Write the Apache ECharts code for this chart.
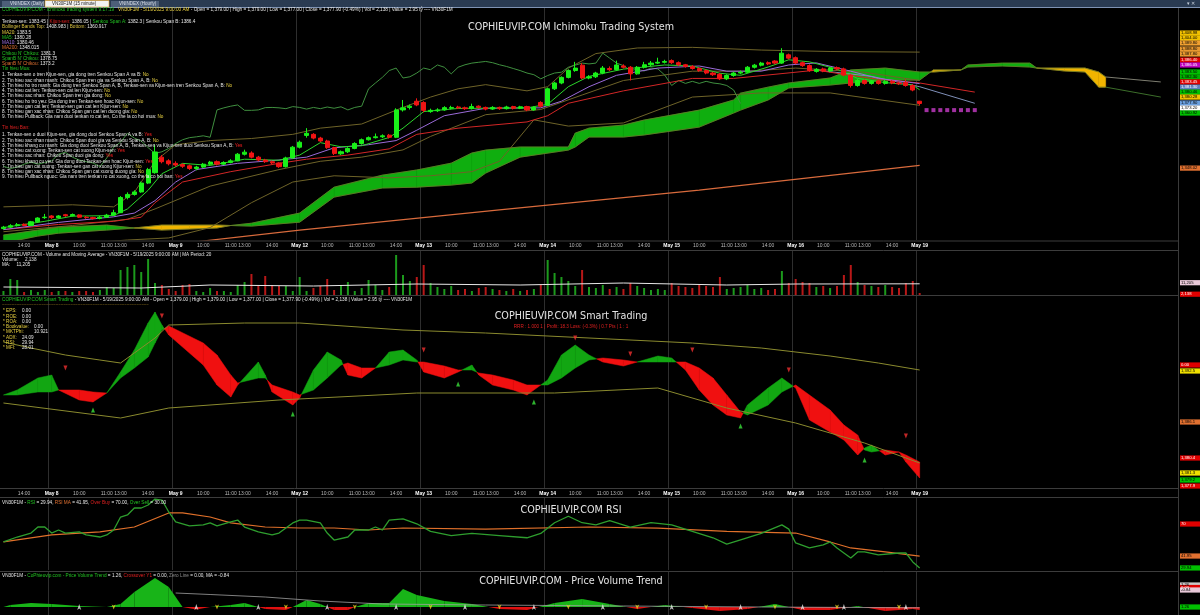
<!DOCTYPE html>
<html><head><meta charset="utf-8">
<script src="https://cdn.jsdelivr.net/npm/echarts@6/dist/echarts.min.js"></script>
<style>html,body{margin:0;padding:0;background:#000;overflow:hidden}#c{width:1200px;height:615px}</style>
</head><body><div id="c"></div>
<script>
// ---------------- DATA ----------------
const days = ["May 7","May 8","May 9","May 12","May 13","May 14","May 15","May 16","May 19"];
const sessionTimes = ["09:00","09:15","09:30","09:45","10:00","10:15","10:30","10:45","11:00","11:15","13:00","13:15","13:30","13:45","14:00","14:15","14:30","14:45"];
const tickTimes = ["10:00","11:00","13:00","14:00"];
const futureSlots = 37;

const opens  = [1317.5,1318.2,1318.9,1319.6,1319.0,1320.8,1322.8,1323.6,1322.8,1324.2,1323.7,1324.1,1323.0,1322.8,1322.4,1323.0,1324.0,1325.2,1332.5,1334.0,1335.2,1339.5,1344.5,1352.0,1350.2,1349.0,1348.4,1347.8,1346.5,1347.2,1348.6,1349.8,1348.6,1349.4,1350.2,1353.4,1354.0,1352.0,1350.6,1349.8,1349.2,1347.4,1351.6,1356.8,1362.5,1363.0,1361.2,1359.8,1356.6,1353.6,1354.6,1356.2,1358.6,1360.4,1361.4,1361.8,1362.6,1361.6,1374.8,1376.0,1379.0,1378.4,1374.0,1374.4,1374.8,1375.6,1376.2,1375.8,1375.4,1376.6,1376.0,1375.2,1376.0,1375.4,1376.4,1375.6,1376.4,1374.8,1378.4,1377.0,1385.0,1387.8,1390.5,1393.8,1396.4,1390.2,1390.8,1392.6,1394.8,1394.2,1396.0,1395.4,1392.2,1395.4,1396.6,1397.4,1397.8,1398.6,1397.6,1396.6,1395.8,1394.8,1393.8,1392.6,1392.0,1389.8,1391.4,1392.6,1393.0,1395.4,1396.4,1397.6,1398.4,1397.4,1401.4,1400.0,1397.6,1396.2,1393.4,1394.6,1393.6,1395.2,1394.6,1391.6,1386.6,1389.0,1387.6,1388.8,1387.6,1388.6,1387.8,1388.0,1386.6,1379.0];
const closes = [1318.2,1318.9,1319.4,1319.0,1320.8,1322.6,1323.0,1322.8,1323.6,1323.7,1324.3,1323.0,1322.8,1322.4,1323.0,1324.0,1325.2,1332.5,1334.0,1335.2,1339.5,1346.0,1354.5,1349.8,1348.8,1348.2,1347.6,1346.5,1347.2,1348.6,1349.6,1348.6,1349.4,1350.2,1353.4,1354.4,1352.0,1350.6,1349.8,1349.2,1347.4,1351.6,1356.8,1359.2,1363.5,1361.2,1359.8,1356.6,1353.8,1354.6,1356.2,1358.6,1360.4,1361.4,1361.8,1362.3,1361.6,1374.8,1375.8,1376.6,1377.2,1374.6,1374.6,1374.8,1375.9,1376.0,1375.8,1375.4,1376.4,1376.0,1375.2,1376.0,1375.4,1376.2,1375.6,1376.3,1374.8,1376.0,1376.6,1385.0,1387.8,1390.5,1393.8,1395.0,1390.2,1390.8,1392.6,1395.0,1394.2,1396.5,1395.4,1392.2,1395.4,1396.6,1397.4,1397.8,1398.2,1397.6,1396.6,1395.8,1394.8,1393.8,1392.6,1391.8,1389.8,1391.4,1392.6,1393.0,1395.4,1396.4,1397.4,1397.0,1397.4,1402.2,1399.8,1397.4,1396.2,1393.8,1394.4,1393.6,1395.0,1394.6,1391.6,1386.6,1389.0,1387.6,1388.6,1387.6,1388.6,1387.8,1387.4,1386.6,1384.4,1377.9];
const highs  = [1318.8,1319.6,1320.2,1320.0,1321.2,1323.0,1324.6,1324.0,1324.0,1324.6,1324.8,1324.4,1323.6,1323.2,1323.6,1324.6,1326.6,1333.2,1335.0,1336.0,1340.2,1346.8,1358.0,1353.0,1351.0,1350.0,1349.0,1348.4,1347.8,1349.2,1350.2,1350.4,1350.0,1351.0,1354.0,1355.6,1354.8,1352.6,1351.2,1350.4,1349.6,1352.2,1357.4,1360.0,1366.0,1363.6,1361.8,1360.4,1357.0,1355.2,1356.8,1359.2,1361.0,1362.0,1363.4,1363.0,1363.2,1375.6,1379.6,1377.4,1380.4,1379.0,1375.4,1375.6,1376.6,1376.8,1376.8,1376.4,1377.8,1377.0,1376.4,1376.6,1376.4,1376.8,1376.8,1376.8,1376.8,1376.6,1379.0,1385.6,1388.4,1391.0,1394.4,1398.0,1397.4,1391.6,1393.2,1396.0,1395.8,1398.6,1396.8,1396.0,1396.0,1398.0,1398.4,1400.0,1399.0,1399.2,1398.2,1397.0,1396.4,1395.4,1394.4,1393.2,1392.6,1392.0,1393.2,1393.8,1396.0,1397.0,1398.0,1398.2,1398.8,1404.6,1402.0,1400.6,1398.2,1396.8,1395.0,1395.2,1395.6,1395.8,1395.2,1392.0,1389.6,1389.6,1389.2,1389.4,1389.2,1389.2,1388.4,1389.6,1387.2,1379.0];
const lows   = [1317.0,1317.8,1318.5,1318.6,1318.8,1320.4,1322.2,1322.2,1322.4,1323.2,1323.3,1322.6,1322.2,1321.8,1322.0,1322.6,1323.6,1325.0,1331.6,1333.4,1334.8,1339.0,1344.0,1349.0,1348.0,1347.4,1346.8,1345.8,1345.6,1346.8,1348.0,1348.0,1348.2,1349.0,1350.0,1352.8,1351.4,1350.0,1349.2,1348.6,1346.8,1347.0,1351.2,1356.2,1361.4,1360.6,1359.2,1356.0,1353.0,1353.0,1354.0,1355.8,1358.0,1360.0,1361.0,1361.2,1361.0,1361.2,1374.0,1375.0,1376.6,1373.6,1373.4,1373.8,1374.4,1375.0,1375.2,1374.8,1375.0,1375.4,1374.6,1374.8,1374.8,1375.0,1375.0,1375.2,1374.2,1374.4,1376.0,1376.6,1384.4,1387.2,1390.0,1393.2,1389.6,1389.6,1390.2,1392.0,1393.6,1393.8,1394.8,1389.0,1391.8,1394.8,1396.0,1397.0,1397.2,1397.0,1396.0,1395.2,1394.2,1393.2,1392.0,1391.2,1389.2,1389.2,1390.8,1392.0,1392.6,1394.8,1395.8,1396.4,1396.8,1397.0,1399.2,1396.8,1395.6,1393.2,1392.8,1393.0,1393.0,1394.0,1391.0,1385.6,1386.0,1387.0,1387.0,1387.0,1387.0,1387.2,1386.8,1386.0,1383.8,1377.0];

// Ichimoku cloud samples: [barIndex, spanA, spanB]
const cloudIdx = [0,5,8,15,19,23,27,31,33,36,43,48,55,60,65,68,70,75,82,83,85,90,93,101,106,107,111,114,120,123,128,133,135,139,140,145,149,150,154,157,159,160];
const spanA    = [1314.4,1316.8,1318.2,1319.2,1317.8,1316.8,1317.3,1317.8,1319.0,1320.1,1325.0,1337.5,1343.3,1345.8,1349.1,1354.0,1355.4,1356.9,1356.9,1363.6,1366.0,1367.5,1369.9,1374.7,1379.6,1382.9,1385.8,1387.8,1390.2,1394.1,1395.0,1393.1,1393.1,1394.1,1396.5,1397.4,1397.4,1395.0,1393.6,1393.1,1385.8,1385.8];
const spanB    = [1310.5,1313.9,1315.3,1316.8,1317.8,1319.2,1319.2,1319.2,1319.0,1318.7,1320.6,1332.7,1337.1,1337.5,1338.5,1339.5,1344.3,1352.0,1355.4,1356.9,1361.7,1361.7,1362.7,1366.5,1373.3,1374.7,1379.6,1385.4,1386.8,1387.8,1389.2,1389.2,1394.1,1394.1,1395.5,1396.0,1395.5,1395.0,1395.0,1395.0,1393.1,1390.7];
const spanTailA = [[160,1385.8],[168,1381.0]];
const spanTailB = [[160,1390.7],[168,1388.3]];

const ma5 = [[0,1318],[6,1321],[10,1323.5],[16,1323.8],[18,1327],[21,1336],[23,1344],[26,1349],[30,1348],[35,1351],[40,1350.5],[43,1353],[46,1359],[49,1357],[52,1357.5],[56,1361.5],[58,1366],[61,1374],[66,1375.5],[76,1375.8],[79,1377.5],[82,1386],[85,1391],[90,1394.5],[96,1396.5],[100,1396],[104,1392.5],[107,1391.5],[111,1395.5],[114,1399],[117,1398],[121,1394.5],[124,1390],[128,1388],[132,1386.8],[133,1384.5]];
const ma10 = [[0,1317],[8,1320.5],[16,1323.2],[19,1325],[22,1331],[25,1340],[28,1346],[34,1349],[40,1350.6],[44,1352],[48,1356.5],[53,1358],[57,1360],[60,1365],[64,1372],[70,1375.6],[78,1375.8],[81,1379],[85,1386],[89,1391.5],[95,1395],[101,1396],[105,1393.5],[110,1393.5],[114,1396.5],[118,1397.5],[123,1393.5],[127,1390],[133,1387.5]];
const tenkanLine = [[0,1317],[8,1319.5],[16,1321],[20,1323],[22,1330],[26,1340],[33,1345],[40,1349],[44,1351],[50,1353],[56,1356],[60,1363],[66,1366],[76,1369],[79,1372],[82,1378],[90,1384],[100,1390],[106,1390],[112,1392],[118,1394],[126,1390],[133,1387.8],[141,1383.4]];
const kijunLine = [[118,1394],[126,1391],[133,1386],[141,1378]];
const bbUpper = [[0,1328],[10,1329],[16,1328],[19,1335],[22,1350],[25,1358],[30,1360],[36,1361],[42,1363],[46,1366],[52,1368],[58,1376],[62,1381],[66,1385],[70,1387],[76,1384],[79,1386],[82,1395],[86,1402],[92,1404.7],[100,1405],[110,1403.7],[120,1403],[133,1402.7]];
const bbMid = [[0,1316],[10,1319],[18,1322],[22,1327],[30,1338],[40,1346],[46,1350],[52,1352],[58,1355.5],[62,1362],[70,1372.5],[78,1375],[84,1382],[90,1389],[100,1393.5],[108,1393.5],[115,1395],[125,1393],[133,1389]];
const bbLower = [[0,1306],[10,1310],[18,1312],[24,1313],[30,1318],[36,1330],[42,1340],[48,1343],[56,1342],[62,1343],[68,1345],[72,1350],[77,1370],[82,1367],[90,1368.5],[100,1381],[110,1383],[120,1383],[133,1377]];
const ma200 = [[25,1310],[43,1316.8],[72,1326.5],[101,1336.1],[133,1348]];
const chikouShift = 26;
const projDots = [[134,1374.7],[135,1374.7],[136,1374.7],[137,1374.7],[138,1374.7],[139,1374.7],[140,1374.7],[141,1374.7]];

// Volume (thousand contracts) and its moving average
const volumes = [4,16,15,3,5,3,5,3,4,4,3,4,4,3,5,8,7,25,28,30,23,36,12,10,6,4,10,11,4,3,7,4,4,3,10,13,21,9,19,10,9,9,4,18,4,7,9,16,5,10,13,4,7,15,10,5,8,40,20,14,18,30,12,8,6,9,5,6,4,7,8,6,5,4,6,4,5,6,10,35,22,18,14,9,25,8,7,10,6,8,6,12,9,7,5,6,5,12,9,8,7,10,9,8,18,6,7,8,10,6,7,5,6,24,12,16,13,12,8,9,7,9,20,30,13,10,9,8,10,8,7,12,14,2];
const volMA = [[0,8],[20,7],[30,10],[45,9],[60,11],[75,10],[90,12],[105,10],[115,11],[133,11.2]];

// Smart Trading ribbon: [barIndex, fast, slow] (panel units)
const stIdx  = [0,2,5,7,8,11,13,15,17,19,21,22,23,24,29,31,33,34,37,38,39,42,43,45,47,49,50,52,54,56,58,60,61,64,66,68,69,71,74,76,79,81,83,85,87,90,92,95,97,99,101,103,105,107,108,111,113,115,117,120,122,124,125,126,128,130,131,133];
const stFast = [93,98,110,113,98,88,86,95,116,138,165,176,163,153,123,103,91,103,126,113,96,83,90,118,136,128,113,110,120,136,138,128,116,110,116,123,113,103,98,93,108,133,143,133,126,122,126,132,130,118,98,83,73,70,83,100,110,100,68,56,48,33,40,43,33,36,26,10];
const stSlow = [93,93,96,96,98,98,96,95,110,120,131,145,158,162,145,133,113,105,110,110,103,96,93,98,110,123,125,120,120,123,128,126,126,122,118,118,115,113,108,103,103,110,120,128,130,128,126,126,126,126,120,110,93,76,73,83,96,103,93,78,63,53,38,36,38,36,33,26];
const stUpper = [[0,146],[4,140],[9,133],[14,128],[17,125],[22,150],[24,163],[35,165],[43,165],[58,158],[70,155],[85,150],[100,145],[110,140],[120,132],[127,125],[133,118]];
const stLower = [[0,85],[17,70],[24,80],[40,88],[60,95],[80,95],[95,100],[105,80],[115,65],[125,45],[133,25]];
const stBuyArrows = [[13,78],[42,74],[66,104],[77,86],[107,62],[125,28]];
const stSellArrows = [[9,120],[23,172],[61,138],[83,150],[91,134],[100,138],[114,118],[131,52]];

// RSI
const rsi = [[0,54.1],[2,58.7],[4,62.4],[5,68],[6,68],[7,62.4],[8,65.2],[9,62.4],[11,63.4],[12,60.6],[14,58.7],[15,60.6],[16,65.2],[17,77.3],[18,79.2],[19,85.7],[20,85.7],[21,88.5],[22,94],[23,93.1],[24,82],[25,72.7],[27,69],[29,69.9],[30,71.8],[31,69],[33,72.7],[34,74.5],[35,68],[37,63.4],[39,60.6],[40,62.4],[42,71.8],[43,74.5],[44,74.5],[46,71.8],[47,62.4],[48,55.9],[50,58.7],[51,65.2],[53,65.2],[54,68],[55,65.2],[56,74.5],[58,75.5],[60,71],[62,64],[65,60],[68,62],[72,60],[76,58],[78,62],[80,72],[82,78],[84,72],[86,70],[88,74],[91,68],[94,72],[97,70],[100,64],[103,58],[105,52],[107,56],[110,62],[113,70],[114,66],[115,53.2],[117,48.5],[119,51.3],[120,54.1],[121,48.5],[123,39.2],[124,44.8],[125,44.8],[127,42],[130,43.8],[131,43.8],[132,35.5],[133,29.9]];
const rsiMA = [[0,54.1],[7,60.6],[14,63.4],[19,68],[24,81.1],[26,81.1],[30,77.3],[33,71.8],[38,68],[43,67.1],[48,67.1],[53,65.2],[58,67.1],[70,66],[85,68],[95,67],[105,64],[115,62.4],[120,54.1],[123,48.5],[128,44.8],[133,41]];

// Price Volume Trend
const pvtIdx = [0,1,4,7,11,15,17,19,22,24,26,28,30,33,35,37,38,41,42,44,46,47,48,50,51,53,56,58,60,64,68,72,76,80,84,88,92,96,100,104,108,112,116,120,124,128,132,133];
const pvtVal = [0,2,4,3,1,0,3,15,29,20,0,-2.5,0,2,4,0,-2,-3,0,7,3,0,-3,-3,0,4,4,18,12,6,3,-2,-3,4,8,3,-2,2,-1,-4,-2,3,-3,-3,1,-4,-2,-3];
const pvtMA = [[25,14],[30,12.5],[38,10],[46,6],[55,3],[70,2],[90,1],[110,0],[133,-0.8]];
const pvtUpMarks = [[11,3],[28,3],[37,3],[47,3],[57,3],[67,3],[77,3],[87,3],[97,3],[107,3],[116,3],[122,3],[131,3]];
const pvtDownMarks = [[16,-2.5],[31,-2.5],[41,-2.5],[51,-2.5],[62,-2.5],[72,-2.5],[82,-2.5],[92,-2.5],[102,-2.5],[112,-2.5],[121,-2.5],[130,-2.5]];

// ---------------- BUILD ----------------
const categories = [];
const dayStart = new Set();
const labelIdx = new Set();
days.forEach((d, k) => {
  let times = sessionTimes;
  if (k === 0) times = sessionTimes.slice(11);
  if (k === days.length - 1) times = sessionTimes.slice(0, 1);
  times.forEach(t => {
    const i = categories.length;
    if (t === "09:00") { dayStart.add(i); labelIdx.add(i); }
    if (tickTimes.includes(t)) labelIdx.add(i);
    categories.push(d + " " + t);
  });
});
for (let f = 0; f < futureSlots; f++) categories.push("+" + (f + 1));

const UP = '#19f019', DOWN = '#f01414';
const candleData = opens.map((o, i) => [o, closes[i], lows[i], highs[i]]);
const chikou = closes.slice(chikouShift).map((c, i) => [i, c]);
const cloudSegs = [];
for (let k = 0; k < cloudIdx.length - 1; k++) cloudSegs.push([cloudIdx[k], spanA[k], spanB[k], cloudIdx[k+1], spanA[k+1], spanB[k+1]]);
const stSegs = [];
for (let k = 0; k < stIdx.length - 1; k++) stSegs.push([stIdx[k], stFast[k], stSlow[k], stIdx[k+1], stFast[k+1], stSlow[k+1]]);
const pvtSegs = [];
for (let k = 0; k < pvtIdx.length - 1; k++) pvtSegs.push([pvtIdx[k], pvtVal[k], pvtIdx[k+1], pvtVal[k+1]]);
const volData = volumes.map((v, i) => ({value: v, itemStyle: {color: closes[i] >= opens[i] ? '#1c9a1c' : '#b81818'}}));

function bandRender(posColor, negColor, edge) {
  return function (params, api) {
    const i0 = api.value(0), a0 = api.value(1), b0 = api.value(2), i1 = api.value(3), a1 = api.value(4), b1 = api.value(5);
    const A0 = api.coord([i0, a0]), B0 = api.coord([i0, b0]), A1 = api.coord([i1, a1]), B1 = api.coord([i1, b1]);
    const d0 = a0 - b0, d1 = a1 - b1;
    const ch = [];
    const poly = (pts, d) => { const c = d >= 0 ? posColor : negColor; ch.push({type: 'polygon', shape: {points: pts}, style: {fill: c, stroke: c, lineWidth: 0.5}}); };
    if (d0 * d1 < 0) {
      const t = d0 / (d0 - d1);
      const M = [A0[0] + (A1[0] - A0[0]) * t, A0[1] + (A1[1] - A0[1]) * t];
      poly([A0, M, B0], d0); poly([M, A1, B1], d1);
    } else poly([A0, A1, B1, B0], d0 + d1);
    if (edge) {
      ch.push({type: 'line', shape: {x1: A0[0], y1: A0[1], x2: A1[0], y2: A1[1]}, style: {stroke: edge, lineWidth: 0.8}});
      ch.push({type: 'line', shape: {x1: B0[0], y1: B0[1], x2: B1[0], y2: B1[1]}, style: {stroke: edge, lineWidth: 0.8}});
    }
    return {type: 'group', children: ch};
  };
}
function pvtRender(params, api) {
  const i0 = api.value(0), v0 = api.value(1), i1 = api.value(2), v1 = api.value(3);
  const P0 = api.coord([i0, v0]), P1 = api.coord([i1, v1]), Z0 = api.coord([i0, 0]), Z1 = api.coord([i1, 0]);
  const col = v => v >= 0 ? '#18b418' : '#e01010';
  const ch = [];
  if (v0 * v1 < 0) {
    const t = v0 / (v0 - v1);
    const M = [Z0[0] + (Z1[0] - Z0[0]) * t, Z0[1]];
    ch.push({type: 'polygon', shape: {points: [Z0, P0, M]}, style: {fill: col(v0)}});
    ch.push({type: 'polygon', shape: {points: [M, P1, Z1]}, style: {fill: col(v1)}});
  } else ch.push({type: 'polygon', shape: {points: [Z0, P0, P1, Z1]}, style: {fill: col(v0 + v1)}});
  return {type: 'group', children: ch};
}

const grids = [
  {left: 0, right: 22, top: 8, height: 232},
  {left: 0, right: 22, top: 251, height: 44},
  {left: 0, right: 22, top: 296, height: 192},
  {left: 0, right: 22, top: 498, height: 72},
  {left: 0, right: 22, top: 572, height: 43}
];
const xAxes = grids.map((g, k) => ({
  type: 'category', gridIndex: k, data: categories, boundaryGap: true,
  axisLine: {show: false}, axisTick: {show: false},
  splitLine: {show: true, interval: (i) => dayStart.has(i), lineStyle: {color: '#2e2e2e', width: 1}},
  axisLabel: (k === 0 || k === 2) ? {
    show: true, interval: (i) => labelIdx.has(i), margin: 3, fontSize: 5, color: '#b8b8b8', fontFamily: 'Liberation Sans',
    formatter: (v) => { const p = v.split(' '); const t = p.pop(); return t === '09:00' ? '{d|' + p.join(' ') + '}' : '{t|' + t + '}'; },
    rich: {d: {fontWeight: 'bold', color: '#ffffff', fontSize: 5, fontFamily: 'Liberation Sans'}, t: {color: '#b8b8b8', fontSize: 5, fontFamily: 'Liberation Sans'}}
  } : {show: false}
}));
const yAxes = [
  {gridIndex: 0, min: 1312, max: 1424, show: false},
  {gridIndex: 1, min: 0, max: 44, show: false},
  {gridIndex: 2, min: 0, max: 192, show: false},
  {gridIndex: 3, min: 28, max: 95, show: false},
  {gridIndex: 4, min: -8, max: 35, show: false}
];
const L = (name, data, color, x, w, extra) => Object.assign({name, type: 'line', data, xAxisIndex: x, yAxisIndex: x, symbol: 'none', connectNulls: true, silent: true, lineStyle: {color, width: w || 1}, z: 3}, extra || {});

const series = [
  {type: 'custom', name: 'cloud', xAxisIndex: 0, yAxisIndex: 0, data: cloudSegs, renderItem: bandRender('#0fae0f', '#f0b400', '#6b7a2a'), encode: {x: [0, 3], y: [1, 2, 4, 5]}, clip: true, silent: true, z: 1},
  L('spanTailA', spanTailA, '#3c6e2a', 0, 1),
  L('spanTailB', spanTailB, '#7d7d70', 0, 1),
  L('ma200', ma200, '#d86a3c', 0, 1.2),
  L('bbUpper', bbUpper, '#6e6328', 0, 1),
  L('bbMid', bbMid, '#6e6328', 0, 1),
  L('bbLower', bbLower, '#6e6328', 0, 1),
  L('chikou', chikou, '#3f8f3f', 0, 1),
  L('kijun', kijunLine, '#7f8fb8', 0, 1),
  L('tenkan', tenkanLine, '#d22626', 0, 1),
  L('ma10', ma10, '#9a6ad8', 0, 1),
  L('ma5', ma5, '#2bd42b', 0, 1),
  {type: 'candlestick', name: 'price', xAxisIndex: 0, yAxisIndex: 0, data: candleData, barWidth: '66%', silent: true, z: 5,
    itemStyle: {color: UP, color0: DOWN, borderColor: UP, borderColor0: DOWN, borderWidth: 1}},
  {type: 'scatter', name: 'proj', xAxisIndex: 0, yAxisIndex: 0, data: projDots, symbol: 'rect', symbolSize: 4, itemStyle: {color: '#c83cc8'}, silent: true, z: 5},
  {type: 'bar', name: 'volume', xAxisIndex: 1, yAxisIndex: 1, data: volData, barWidth: 2, silent: true},
  L('volMA', volMA, '#e8e8e8', 1, 1),
  {type: 'custom', name: 'smart', xAxisIndex: 2, yAxisIndex: 2, data: stSegs, renderItem: bandRender('#12a612', '#f01010', null), encode: {x: [0, 3], y: [1, 2, 4, 5]}, clip: true, silent: true, z: 2},
  L('stUpper', stUpper, '#8a8a2e', 2, 1),
  L('stLower', stLower, '#8a8a2e', 2, 1),
  {type: 'scatter', name: 'buy', xAxisIndex: 2, yAxisIndex: 2, data: stBuyArrows, symbol: 'triangle', symbolSize: [4, 5], itemStyle: {color: '#3ae03a'}, silent: true, z: 6},
  {type: 'scatter', name: 'sell', xAxisIndex: 2, yAxisIndex: 2, data: stSellArrows, symbol: 'triangle', symbolRotate: 180, symbolSize: [4, 5], itemStyle: {color: '#f03030'}, silent: true, z: 6},
  L('rsiMA', rsiMA, '#e0702a', 3, 1.2),
  L('rsi', rsi, '#2e9e2e', 3, 1.3),
  {type: 'custom', name: 'pvt', xAxisIndex: 4, yAxisIndex: 4, data: pvtSegs, renderItem: pvtRender, encode: {x: [0, 2], y: [1, 3]}, clip: true, silent: true, z: 2},
  L('pvtMA', pvtMA, '#a0a0a0', 4, 0.8),
  {type: 'scatter', name: 'pvtUp', xAxisIndex: 4, yAxisIndex: 4, data: pvtUpMarks, symbol: 'arrow', symbolSize: [3, 6], itemStyle: {color: '#e8e8e8'}, silent: true, z: 6},
  {type: 'scatter', name: 'pvtDown', xAxisIndex: 4, yAxisIndex: 4, data: pvtDownMarks, symbol: 'arrow', symbolRotate: 180, symbolSize: [3, 5], itemStyle: {color: '#e8d020'}, silent: true, z: 6}
];

// ---------------- TEXT ----------------
const FF = 'Liberation Sans';
const T = (x, y, text, fill, size, extra) => Object.assign({type: 'text', x, y, z: 50, silent: true, style: Object.assign({text, fill, fontSize: size || 4.7, fontFamily: FF, verticalAlign: 'middle', align: 'left'}, (extra && extra.style) || {})}, extra && extra.el || {});
const R = (x, y, w, h, fill, extra) => Object.assign({type: 'rect', shape: {x, y, width: w, height: h}, style: Object.assign({fill}, extra || {}), z: 40, silent: true});
const Ln = (x1, y1, x2, y2, c) => ({type: 'line', shape: {x1, y1, x2, y2}, style: {stroke: c, lineWidth: 1}, z: 45, silent: true});
const RT = (x, y, text, rich, size) => ({type: 'text', x, y, z: 50, silent: true, style: {text, rich, fontSize: size || 4.7, fontFamily: FF, verticalAlign: 'middle', fill: '#fff'}});

const buyRules = [
  "1. Tenkan-sen o tren Kijun-sen, gia dong tren Senkou Span A va B: ",
  "2. Tin hieu xac nhan manh: Chikou Span tren gia va Senkou Span A, B: ",
  "3. Tin hieu ho tro manh: Gia dong tren Senkou Span A, B, Tenkan-sen va Kijun-sen tren Senkou Span A, B: ",
  "4. Tin hieu cat len: Tenkan-sen cat len Kijun-sen: ",
  "5. Tin hieu xac nhan: Chikou Span tren gia dong: ",
  "6. Tin hieu ho tro yeu: Gia dong tren Tenkan-sen hoac Kijun-sen: ",
  "7. Tin hieu gan cat len: Tenkan-sen gan cat len Kijun-sen: ",
  "8. Tin hieu gan xac nhan: Chikou Span gan cat len duong gia: ",
  "9. Tin hieu Pullback: Gia nam duoi tenkan ro cat len, Co the la co hoi mua: "
];
const buyAns = ["No","No","No","No","No","No","No","No","No"];
const sellRules = [
  "1. Tenkan-sen o duoi Kijun-sen, gia dong duoi Senkou Span A va B: ",
  "2. Tin hieu xac nhan manh: Chikou Span duoi gia va Senkou Span A, B: ",
  "3. Tin hieu khang cu manh: Gia dong duoi Senkou Span A, B, Tenkan-sen va Kijun-sen duoi Senkou Span A, B: ",
  "4. Tin hieu cat xuong: Tenkan-sen cat xuong Kijun-sen: ",
  "5. Tin hieu xac nhan: Chikou Span duoi gia dong: ",
  "6. Tin hieu khang cu yeu: Gia dong duoi Tenkan-sen hoac Kijun-sen: ",
  "7. Tin hieu gan cat xuong: Tenkan-sen gan cat xuong Kijun-sen: ",
  "8. Tin hieu gan xac nhan: Chikou Span gan cat xuong duong gia: ",
  "9. Tin hieu Pullback nguoc: Gia nam tren tenkan ro cat xuong, co the la co hoi ban: "
];
const sellAns = ["Yes","No","Yes","Yes","Yes","Yes","No","No","Yes"];

const g = [];
// tab bar
g.push(R(0, 0, 1200, 7, '#2a3b52'));
g.push(R(0, 7, 1200, 1, '#7f93b3'));
g.push(R(2, 1, 42, 6, '#4d5f79'));
g.push(T(10, 4, 'VNINDEX (Daily)', '#d8dde6', 4.5));
g.push(R(45, 0.5, 64, 6.5, '#f2f2f2', {stroke: '#e0a020', lineWidth: 0.6}));
g.push(T(52, 4, 'VN30F1M (15 minute)', '#202020', 4.5));
g.push(R(111, 1, 48, 6, '#4d5f79'));
g.push(T(119, 4, 'VNINDEX (Hourly)', '#d8dde6', 4.5));
g.push(T(1187, 4, '▾ ✕', '#c8d0dc', 4.5));
// separators
[241, 250.5, 295.5, 488.5, 497.5, 571.5].forEach(y => g.push(Ln(0, y, 1178, y, '#3c3c3c')));
g.push(Ln(1178.5, 8, 1178.5, 615, '#3a3a3a'));

// panel 1 legend
g.push(RT(2, 10, '{g|COPHIEUVIP.COM - Ichimoku trading system 9.17.19}{w|   }{y|VN30F1M - 5/19/2025 9:00:00 AM}{w| - Open = 1,379.00 | High = 1,379.00 | Low = 1,377.00 | Close = 1,377.90 (-0.49%) | Vol = 2,138 | Value = 2.95 tỷ ---- VN30F1M}',
  {g: {fill: '#22c422'}, y: {fill: '#e8d040'}, w: {fill: '#e6e6e6'}}));
g.push(T(2, 16, '~~~~~~~~~~~~~~~~~~~~~~~~~~~~~~~~~~~~~~~~~~~~~~~~~', '#c88a2a', 4.2));
g.push(RT(2, 21.5, '{w|Tenkan-sen: 1383.45 | }{r|Kijun-sen:}{w| 1386.05 | }{g|Senkou Span A:}{w| 1382.3 | Senkou Span B: 1386.4}', {w: {fill: '#e6e6e6'}, r: {fill: '#e02020'}, g: {fill: '#22c422'}}));
g.push(RT(2, 27, '{y|Bollinger Bands Top:}{w| 1408.983 | }{y|Bottom:}{w| 1360.917}', {y: {fill: '#d8c040'}, w: {fill: '#e6e6e6'}}));
g.push(RT(2, 32.5, '{c|MA20:}{w| 1383.5}', {c: {fill: '#e8d040'}, w: {fill: '#e6e6e6'}}));
g.push(RT(2, 37.5, '{c|MA5:}{w| 1380.28}', {c: {fill: '#22c422'}, w: {fill: '#e6e6e6'}}));
g.push(RT(2, 43, '{c|MA10:}{w| 1380.46}', {c: {fill: '#a070e0'}, w: {fill: '#e6e6e6'}}));
g.push(RT(2, 48, '{c|MA200:}{w| 1348.015}', {c: {fill: '#e07030'}, w: {fill: '#e6e6e6'}}));
g.push(RT(2, 53.5, "{c|Chikou N' Chikou:}{w| 1381.3}", {c: {fill: '#22c422'}, w: {fill: '#e6e6e6'}}));
g.push(RT(2, 58.5, "{c|SpanB N' Chikou:}{w| 1378.75}", {c: {fill: '#22c422'}, w: {fill: '#e6e6e6'}}));
g.push(RT(2, 63.5, "{c|SpanB N' Chikou:}{w| 1373.2}", {c: {fill: '#e07030'}, w: {fill: '#e6e6e6'}}));
g.push(T(2, 69, 'Tin hieu Mua:', '#22c422', 4.7));
buyRules.forEach((r, k) => g.push(RT(2, 75 + k * 5.25, '{w|' + r + '}{a|' + buyAns[k] + '}', {w: {fill: '#e6e6e6'}, a: {fill: '#e8d040'}})));
g.push(T(2, 128, 'Tin hieu Ban:', '#e02020', 4.7));
sellRules.forEach((r, k) => g.push(RT(2, 135 + k * 5.25, '{w|' + r + '}{a|' + sellAns[k] + '}', {w: {fill: '#e6e6e6'}, a: {fill: sellAns[k] === 'Yes' ? '#ff2020' : '#e8d040'}})));

// titles
const TT = (y, s) => T(571, y, s, '#e4e4e4', 9.6, {style: {align: 'center', fontFamily: 'DejaVu Sans'}});
g.push(TT(27, 'COPHIEUVIP.COM Ichimoku Trading System'));
g.push(TT(316, 'COPHIEUVIP.COM Smart Trading'));
g.push(T(571, 327, 'RRR : 1.000 1 | Profit: 18.3 Loss: (-0.3%) | 0.7 Pts | 1 : 1', '#e02020', 4.6, {style: {align: 'center'}}));
g.push(TT(510, 'COPHIEUVIP.COM RSI'));
g.push(TT(581, 'COPHIEUVIP.COM - Price Volume Trend'));

// volume legend
g.push(T(2, 254.5, 'COPHIEUVIP.COM - Volume and Moving Average - VN30F1M - 5/19/2025 9:00:00 AM | MA Period: 20', '#e6e6e6', 4.6));
g.push(T(2, 259.5, 'Volume:     2,138', '#e6e6e6', 4.6));
g.push(T(2, 264.5, 'MA:     11,205', '#e6e6e6', 4.6));
// smart legend
g.push(RT(2, 299.5, '{g|COPHIEUVIP.COM Smart Trading}{w| - VN30F1M - 5/19/2025 9:00:00 AM - Open = 1,379.00 | High = 1,379.00 | Low = 1,377.00 | Close = 1,377.90 (-0.49%) | Vol = 2,138 | Value = 2.95 tỷ ---- VN30F1M}', {g: {fill: '#22c422'}, w: {fill: '#e6e6e6'}}));
g.push(T(2, 305, '~~~~~~~~~~~~~~~~~~~~~~~~~~~~~~~~~~~~~~~~~~~~~~~~~~~~~~~~~~~~', '#c8a02a', 4.2));
[['* EPS:', '0.00'], ['* ROE:', '0.00'], ['* ROA:', '0.00'], ['* Bookvalue:', '0.00'], ['* MKTPhi:', '10.921'], ['* ADX:', '24.09'], ['* RSI:', '29.94'], ['* MFI:', '28.01']].forEach((p, k) => {
  g.push(T(3, 311 + k * 5.3, p[0], '#e8d040', 4.6));
  g.push(T(k >= 5 ? 22 : (k >= 3 ? 34 : 22), 311 + k * 5.3, p[1], '#e6e6e6', 4.6));
});
// RSI legend
g.push(RT(2, 502.5, '{w|VN30F1M - }{g|RSI}{w| = 29.94, }{o|RSI MA}{w| = 41.95, }{r|Over Buy}{w| = 70.00, }{g|Over Sell}{w| = 30.00}', {w: {fill: '#e6e6e6'}, g: {fill: '#22c422'}, o: {fill: '#e07030'}, r: {fill: '#e02020'}}));
// PVT legend
g.push(RT(2, 575.5, '{w|VN30F1M - }{g|CoPhieuvip.com - Price Volume Trend}{w| = 1.26, }{r|Crossover Y1}{w| = 0.00, }{d|Zero Line}{w| = 0.00, MA = -0.84}', {w: {fill: '#e6e6e6'}, g: {fill: '#22c422'}, r: {fill: '#e02020'}, d: {fill: '#909090'}}));

// right-column price tags: [axisIndex, value, text, bg, fg]
const tags = [
  [0, 1411.9, '1,408.98', '#f0c000', '#000'], [0, 1409.5, '1,404.00', '#f0c000', '#000'], [0, 1407.1, '1,389.80', '#f0a030', '#000'],
  [0, 1404.2, '1,388.80', '#e89830', '#000'], [0, 1401.8, '1,387.80', '#e89830', '#000'], [0, 1398.9, '1,386.40', '#e00000', '#fff'],
  [0, 1396.5, '1,386.05', '#c000c0', '#fff'], [0, 1393.1, '1,383.50', '#00c000', '#000'], [0, 1390.7, '1,382.30', '#00b000', '#000'],
  [0, 1388.3, '1,383.45', '#e00000', '#fff'], [0, 1385.8, '1,381.30', '#6080c0', '#fff'], [0, 1383.4, '1,380.46', '#00c000', '#000'],
  [0, 1381.0, '1,380.28', '#f0c000', '#000'], [0, 1378.1, '1,377.90', '#6aa0e0', '#000'], [0, 1375.7, '1,373.20', '#ffffff', '#000'],
  [0, 1373.3, '1,360.92', '#00c000', '#000'], [0, 1346.7, '1,348.02', '#e07030', '#000'],
  [1, 12.3, '11,205', '#e8c8d8', '#000'], [1, 0.8, '2,138', '#e00000', '#fff'],
  [2, 123, '0.00', '#e00000', '#fff'], [2, 117, '1,392.5', '#f0e000', '#000'], [2, 66, '1,386.1', '#e07030', '#000'],
  [2, 30, '1,380.4', '#e00000', '#fff'], [2, 15, '1,381.3', '#f0e000', '#000'], [2, 8, '1,379.2', '#00c000', '#000'],
  [2, 2, '1,377.9', '#e00000', '#fff'],
  [3, 70.8, '70', '#e00000', '#fff'], [3, 41, '41.95', '#e07030', '#000'], [3, 29.9, '29.94', '#00c000', '#000'],
  [4, 22, '1.26', '#c8c8c8', '#000'], [4, 19.5, '0.00', '#e00000', '#fff'], [4, 17, '-0.84', '#e8c8d8', '#000'], [4, 0, '1.26', '#00c000', '#000']
];

const chart = echarts.init(document.getElementById('c'), null, {renderer: 'canvas'});
chart.setOption({
  backgroundColor: '#000', animation: false,
  grid: grids, xAxis: xAxes, yAxis: yAxes, series, graphic: {elements: g}
});
tags.forEach(t => {
  const y = chart.convertToPixel({yAxisIndex: t[0]}, t[1]);
  g.push(R(1180, y - 2.6, 20, 5.2, t[3]));
  g.push(T(1181, y, t[2], t[4], 4.2, {el: {z: 51}}));
});
chart.setOption({graphic: {elements: g}}, {replaceMerge: ['graphic']});
</script></body></html>
